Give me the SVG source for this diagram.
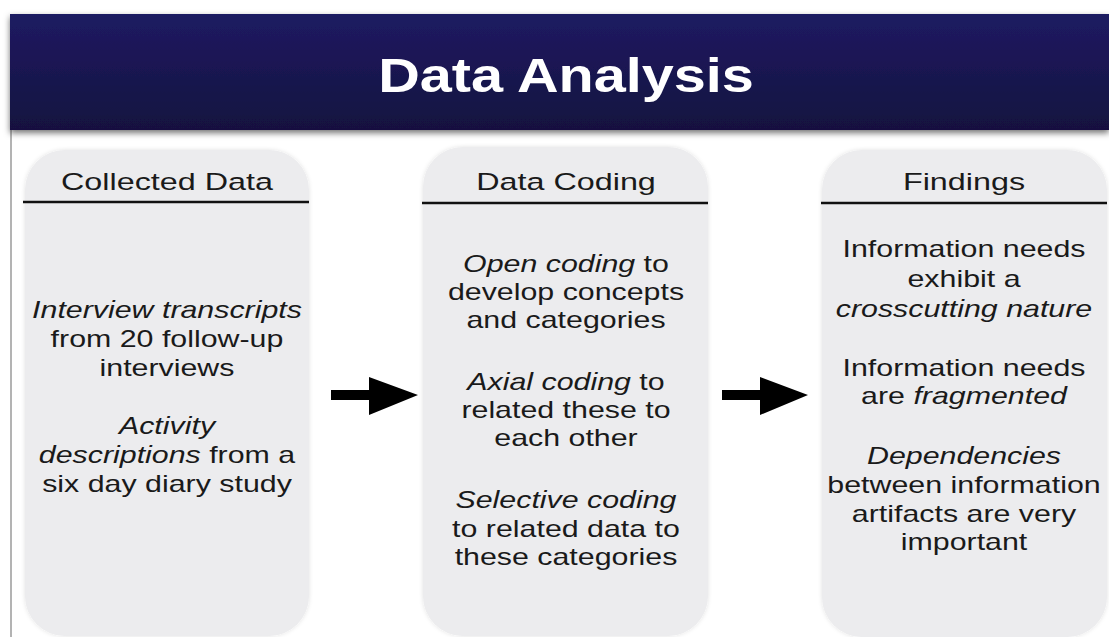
<svg xmlns="http://www.w3.org/2000/svg" width="1109" height="637" viewBox="0 0 1109 637">
<defs>
<linearGradient id="hdr" x1="0" y1="0" x2="0" y2="1">
<stop offset="0" stop-color="#1f1b62"/>
<stop offset="1" stop-color="#14113f"/>
</linearGradient>
<filter id="hsh" x="-5%" y="-20%" width="110%" height="150%">
<feDropShadow dx="0" dy="3" stdDeviation="3" flood-color="#000" flood-opacity="0.55"/>
</filter>
<filter id="psh" x="-10%" y="-10%" width="120%" height="120%">
<feDropShadow dx="0" dy="0" stdDeviation="2" flood-color="#000" flood-opacity="0.12"/>
</filter>
<style>
.panel{fill:#ececee;filter:url(#psh);}
.rule{stroke:#111;stroke-width:2.5;}
.ttl{font-family:"Liberation Sans",Arial,Helvetica,sans-serif;font-size:24.5px;fill:#1a1a1a;text-anchor:middle;}
.body{font-family:"Liberation Sans",Arial,Helvetica,sans-serif;font-size:23px;fill:#1a1a1a;text-anchor:middle;}
.i{font-style:italic;}
.arrow{fill:#000;}
</style>
</defs>
<rect x="0" y="0" width="1109" height="637" fill="#fff"/>
<line x1="11" y1="128" x2="11" y2="637" stroke="#9a9a9a" stroke-width="1.5"/>
<g id="header">
<rect x="10" y="14" width="1099" height="116" fill="url(#hdr)" filter="url(#hsh)"/>
<text transform="translate(566 92) scale(1.2 1)" x="0" y="0" text-anchor="middle" font-family="Liberation Sans, Arial, Helvetica, sans-serif" font-weight="bold" font-size="48" fill="#fff">Data Analysis</text>
</g>
<g id="collected-data">
<rect class="panel" x="25" y="150" width="284" height="486" rx="40" ry="40"/>
<line class="rule" x1="23" y1="202" x2="309" y2="202"/>
<g transform="translate(167 0) scale(1.32 1)">
<text class="ttl" x="0" y="190">Collected Data</text>
<text class="body" x="0" y="318"><tspan class="i">Interview transcripts</tspan></text>
<text class="body" x="0" y="347">from 20 follow-up</text>
<text class="body" x="0" y="376">interviews</text>
<text class="body" x="0" y="434"><tspan class="i">Activity</tspan></text>
<text class="body" x="0" y="463"><tspan class="i">descriptions</tspan> from a</text>
<text class="body" x="0" y="492">six day diary study</text>
</g>
</g>
<g id="data-coding">
<rect class="panel" x="423" y="147" width="285" height="489" rx="40" ry="40"/>
<line class="rule" x1="422" y1="203" x2="708" y2="203"/>
<g transform="translate(566 0) scale(1.32 1)">
<text class="ttl" x="0" y="190">Data Coding</text>
<text class="body" x="0" y="272"><tspan class="i">Open coding</tspan> to</text>
<text class="body" x="0" y="300">develop concepts</text>
<text class="body" x="0" y="328">and categories</text>
<text class="body" x="0" y="390"><tspan class="i">Axial coding</tspan> to</text>
<text class="body" x="0" y="418">related these to</text>
<text class="body" x="0" y="446">each other</text>
<text class="body" x="0" y="508"><tspan class="i">Selective coding</tspan></text>
<text class="body" x="0" y="537">to related data to</text>
<text class="body" x="0" y="565">these categories</text>
</g>
</g>
<g id="findings">
<rect class="panel" x="822" y="150" width="285" height="487" rx="40" ry="40"/>
<line class="rule" x1="821" y1="203" x2="1107" y2="203"/>
<g transform="translate(964 0) scale(1.32 1)">
<text class="ttl" x="0" y="190">Findings</text>
<text class="body" x="0" y="257">Information needs</text>
<text class="body" x="0" y="287">exhibit a</text>
<text class="body" x="0" y="317"><tspan class="i">crosscutting nature</tspan></text>
<text class="body" x="0" y="376">Information needs</text>
<text class="body" x="0" y="404">are <tspan class="i">fragmented</tspan></text>
<text class="body" x="0" y="464"><tspan class="i">Dependencies</tspan></text>
<text class="body" x="0" y="493">between information</text>
<text class="body" x="0" y="522">artifacts are very</text>
<text class="body" x="0" y="550">important</text>
</g>
</g>
<g id="connectors">
<polygon class="arrow" points="331,390 369,390 369,377 418,395 369,415 369,400 331,400"/>
<polygon class="arrow" points="722,390 760,390 760,377 808,395 760,415 760,400 722,400"/>
</g>
</svg>
